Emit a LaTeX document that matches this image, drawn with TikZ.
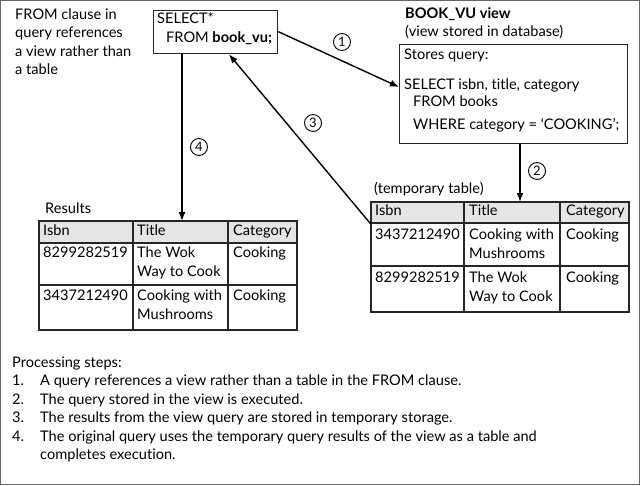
\documentclass[tikz,border=0pt]{standalone}
\usepackage{fontspec}
\setmainfont{Lato}[Ligatures=NoCommon]
\usetikzlibrary{arrows.meta,calc}
\begin{document}
\begin{tikzpicture}[x=1pt,y=-1pt,
  txt/.style={anchor=mid west,inner sep=0pt,font=\fontsize{14.6}{17}\selectfont},
  box/.style={draw=black!85,line width=1.3pt,inner sep=0pt,anchor=north west},
  arr/.style={line width=1.4pt,-{Latex[length=9pt,width=7pt]}},
  num/.style={circle,draw,line width=0.9pt,minimum size=17pt,inner sep=0pt,font=\fontsize{13}{13}\selectfont},
  grid/.style={draw=black!85,line width=1.3pt},
  head/.style={fill=black!10}
]
\useasboundingbox (0,0) rectangle (640,485);
\draw[black!60,line width=1pt] (0.5,0.5) rectangle (639.5,484.5);

% top-left note
\node[txt] (n1) at (15,17) {FROM clause in};
\node[txt] (n2) at (15,35) {query references};
\node[txt] (n3) at (15,54) {a view rather than};
\node[txt] (n4) at (15,72) {a table};

% select box
\node[box,minimum width=124pt,minimum height=43pt] (sel) at (153,10) {};
\node[txt] (s1) at (157,21) {SELECT*};
\node[txt] (s2) at (166,40) {FROM \textbf{book\_vu;}};

% view
\node[txt] (v0) at (405,16) {\textbf{BOOK\_VU view}};
\node[txt] (v00) at (405,34) {(view stored in database)};
\node[box,minimum width=228pt,minimum height=99pt] (view) at (399,44) {};
\node[txt] (v1) at (404,57) {Stores query:};
\node[txt] (v2) at (404,87) {SELECT isbn, title, category};
\node[txt] (v3) at (413,104) {FROM books};
\node[txt] (v4) at (413,127) {WHERE category = ‘COOKING’;};

% temporary table
\node[txt] (tl) at (374,191) {(temporary table)};
\node[box,minimum width=258pt,minimum height=21pt,head] (tmph) at (371,202) {};
\node[box,minimum width=258pt,minimum height=110pt] (tmp) at (371,202) {};
\fill[black!10] (371,202) rectangle (629,223);
\draw[grid] (371,202) rectangle (629,312);
\draw[grid] (371,223) -- (629,223);
\draw[grid] (371,266) -- (629,266);
\draw[grid] (464,202) -- (464,312);
\draw[grid] (560,202) -- (560,312);
\node[txt] (th1) at (375,213) {Isbn};
\node[txt] (th2) at (469,213) {Title};
\node[txt] (th3) at (566,213) {Category};
\node[txt] (t11) at (375,237) {3437212490};
\node[txt] (t12) at (469,237) {Cooking with};
\node[txt] (t12b) at (469,256) {Mushrooms};
\node[txt] (t13) at (566,237) {Cooking};
\node[txt] (t21) at (375,280) {8299282519};
\node[txt] (t22) at (469,280) {The Wok};
\node[txt] (t22b) at (469,299) {Way to Cook};
\node[txt] (t23) at (566,280) {Cooking};

% results table
\node[txt] (rl) at (45,211) {Results};
\node[box,minimum width=258pt,minimum height=109pt] (res) at (39,221) {};
\fill[black!10] (39,221) rectangle (297,243);
\draw[grid] (39,221) rectangle (297,330);
\draw[grid] (39,243) -- (297,243);
\draw[grid] (39,285) -- (297,285);
\draw[grid] (133,221) -- (133,330);
\draw[grid] (228,221) -- (228,330);
\node[txt] (rh1) at (43,233) {Isbn};
\node[txt] (rh2) at (137,233) {Title};
\node[txt] (rh3) at (233,233) {Category};
\node[txt] (r11) at (43,255) {8299282519};
\node[txt] (r12) at (137,255) {The Wok};
\node[txt] (r12b) at (137,274) {Way to Cook};
\node[txt] (r13) at (233,255) {Cooking};
\node[txt] (r21) at (43,298) {3437212490};
\node[txt] (r22) at (137,298) {Cooking with};
\node[txt] (r22b) at (137,317) {Mushrooms};
\node[txt] (r23) at (233,298) {Cooking};

% arrows
\coordinate (c1) at (0,87);
\coordinate (c2) at (520,0);
\coordinate (c3) at (229,0);
\coordinate (c4) at (182,0);
\draw[arr] ($(sel.east)+(0,-0.5)$) -- (view.west |- c1);
\draw[arr] (view.south -| c2) -- (tmp.north -| c2);
\draw[arr] (tmph.south west) -- (sel.south -| c3);
\draw[arr] (sel.south -| c4) -- (res.north -| c4);
\node[num] (k1) at (342,42) {1};
\node[num] (k2) at (537,171) {2};
\node[num] (k3) at (313,123) {3};
\node[num] (k4) at (199,147) {4};

% processing steps
\node[txt] (p0) at (12,365) {Processing steps:};
\node[txt] (p1n) at (12,383) {1.};
\node[txt] (p1) at (40,383) {A query references a view rather than a table in the FROM clause.};
\node[txt] (p2n) at (12,402) {2.};
\node[txt] (p2) at (40,402) {The query stored in the view is executed.};
\node[txt] (p3n) at (12,420) {3.};
\node[txt] (p3) at (40,420) {The results from the view query are stored in temporary storage.};
\node[txt] (p4n) at (12,439) {4.};
\node[txt] (p4) at (40,439) {The original query uses the temporary query results of the view as a table and};
\node[txt] (p4b) at (40,457) {completes execution.};
\end{tikzpicture}
\end{document}
